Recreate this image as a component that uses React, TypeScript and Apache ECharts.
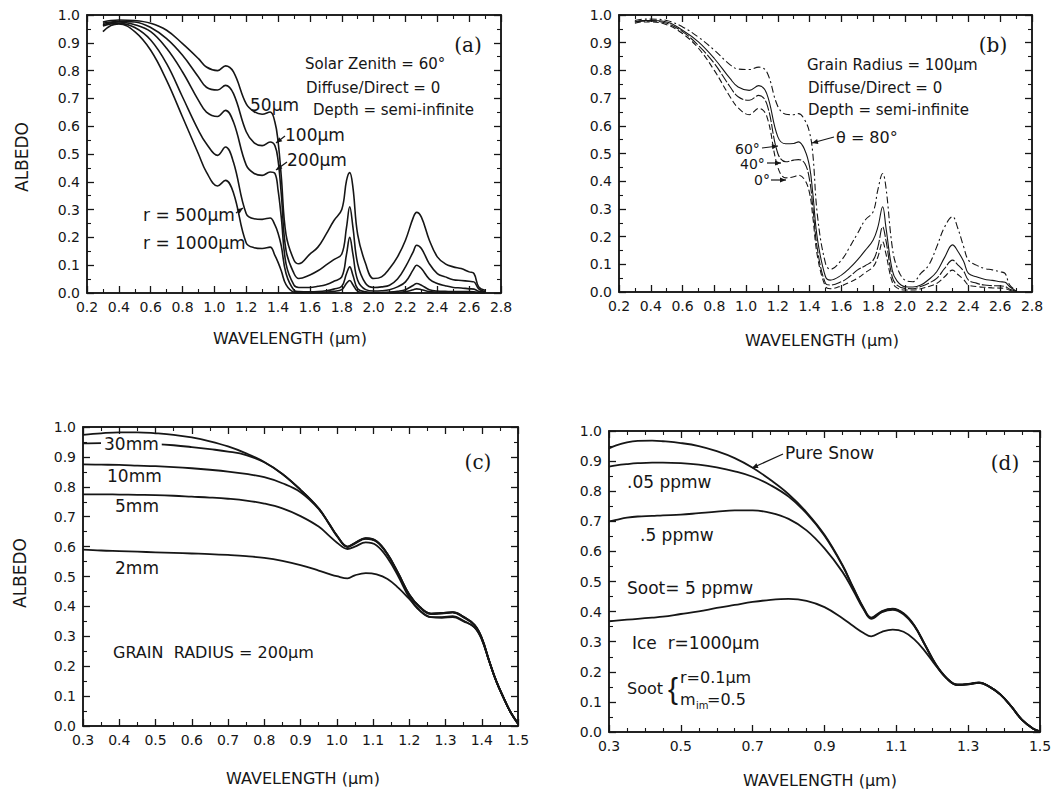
import React, { useEffect, useRef } from "react";
import * as echarts from "echarts";

// ---------- Panel (a): grain radius, solar zenith 60° ----------
const waveA = [0.30,0.35,0.40,0.50,0.60,0.70,0.80,0.90,0.95,1.02,1.07,1.12,1.20,1.25,1.30,1.35,1.38,1.40,1.42,1.45,1.50,1.53,1.60,1.65,1.70,1.75,1.80,1.83,1.85,1.87,1.90,1.95,2.00,2.05,2.10,2.15,2.20,2.25,2.27,2.30,2.35,2.40,2.45,2.50,2.55,2.60,2.63,2.66,2.70];
const r50 = [0.975,0.980,0.982,0.980,0.970,0.945,0.897,0.843,0.813,0.800,0.817,0.795,0.680,0.652,0.643,0.651,0.615,0.545,0.420,0.210,0.118,0.105,0.140,0.165,0.210,0.260,0.300,0.405,0.433,0.380,0.210,0.105,0.052,0.058,0.088,0.130,0.190,0.273,0.290,0.273,0.190,0.130,0.105,0.094,0.088,0.076,0.070,0.022,0.010];
const r100 = [0.970,0.975,0.977,0.975,0.955,0.915,0.855,0.777,0.740,0.730,0.747,0.717,0.580,0.540,0.530,0.543,0.530,0.477,0.357,0.153,0.070,0.052,0.065,0.080,0.100,0.120,0.140,0.237,0.310,0.237,0.105,0.034,0.020,0.022,0.028,0.050,0.094,0.150,0.172,0.160,0.105,0.070,0.058,0.048,0.045,0.042,0.040,0.015,0.005];
const r200 = [0.965,0.972,0.975,0.965,0.940,0.880,0.795,0.693,0.651,0.635,0.657,0.615,0.460,0.430,0.423,0.435,0.430,0.370,0.273,0.105,0.028,0.020,0.020,0.024,0.030,0.042,0.058,0.140,0.200,0.140,0.046,0.012,0.007,0.008,0.012,0.022,0.040,0.085,0.100,0.088,0.050,0.034,0.026,0.020,0.018,0.015,0.014,0.006,0.003];
const r500 = [0.960,0.968,0.970,0.955,0.910,0.825,0.705,0.585,0.537,0.495,0.525,0.470,0.285,0.267,0.265,0.270,0.245,0.215,0.170,0.070,0.010,0.005,0.004,0.005,0.008,0.014,0.024,0.070,0.094,0.064,0.015,0.004,0.002,0.002,0.003,0.006,0.012,0.028,0.034,0.028,0.012,0.007,0.006,0.005,0.005,0.005,0.004,0.002,0.000];
const r1000 = [0.940,0.962,0.968,0.940,0.873,0.765,0.633,0.500,0.435,0.385,0.405,0.360,0.180,0.163,0.160,0.165,0.135,0.110,0.080,0.030,0.003,0.001,0.001,0.002,0.003,0.006,0.012,0.035,0.045,0.030,0.006,0.001,0.000,0.000,0.001,0.002,0.005,0.012,0.015,0.012,0.005,0.003,0.002,0.002,0.002,0.002,0.002,0.001,0.000];

// ---------- Panel (b): solar zenith angle, grain radius 100 µm ----------
const waveB = [0.30,0.35,0.40,0.50,0.60,0.70,0.80,0.90,0.95,1.02,1.08,1.13,1.20,1.25,1.30,1.33,1.37,1.40,1.42,1.45,1.50,1.53,1.60,1.65,1.70,1.75,1.80,1.83,1.86,1.88,1.92,1.95,2.00,2.05,2.10,2.15,2.20,2.25,2.30,2.33,2.37,2.40,2.45,2.50,2.55,2.60,2.63,2.66,2.70];
const z80 = [0.980,0.985,0.985,0.980,0.957,0.920,0.873,0.820,0.805,0.803,0.812,0.795,0.670,0.642,0.640,0.644,0.620,0.575,0.500,0.272,0.103,0.082,0.115,0.160,0.210,0.260,0.290,0.370,0.428,0.380,0.163,0.090,0.043,0.037,0.067,0.097,0.163,0.235,0.272,0.235,0.163,0.115,0.097,0.085,0.080,0.073,0.067,0.025,0.005];
const z60 = [0.975,0.980,0.980,0.975,0.945,0.903,0.843,0.770,0.740,0.728,0.745,0.716,0.560,0.535,0.536,0.542,0.512,0.452,0.356,0.188,0.055,0.043,0.061,0.085,0.115,0.150,0.188,0.235,0.308,0.235,0.079,0.040,0.019,0.018,0.025,0.045,0.073,0.125,0.170,0.150,0.110,0.067,0.055,0.046,0.042,0.037,0.035,0.019,0.004];
const z40 = [0.975,0.978,0.978,0.970,0.940,0.890,0.825,0.740,0.705,0.692,0.710,0.680,0.500,0.470,0.476,0.478,0.464,0.404,0.308,0.151,0.031,0.025,0.037,0.055,0.079,0.095,0.115,0.163,0.235,0.188,0.055,0.025,0.013,0.012,0.020,0.032,0.049,0.085,0.115,0.100,0.075,0.043,0.032,0.025,0.023,0.022,0.020,0.010,0.003];
const z0 = [0.970,0.975,0.975,0.965,0.933,0.880,0.800,0.704,0.665,0.640,0.663,0.635,0.450,0.412,0.416,0.422,0.404,0.356,0.272,0.127,0.019,0.012,0.022,0.035,0.049,0.070,0.091,0.127,0.181,0.139,0.037,0.015,0.007,0.007,0.012,0.020,0.031,0.055,0.079,0.065,0.045,0.025,0.020,0.017,0.015,0.014,0.013,0.006,0.002];

// ---------- Panel (c): snow depth, grain radius 200 µm ----------
const waveC = [0.30,0.35,0.40,0.45,0.50,0.55,0.60,0.65,0.70,0.75,0.80,0.85,0.90,0.95,0.98,1.00,1.03,1.05,1.08,1.11,1.14,1.17,1.20,1.23,1.26,1.29,1.32,1.35,1.38,1.40,1.42,1.44,1.46,1.48,1.50];
const dInf = [0.974,0.979,0.982,0.982,0.979,0.974,0.965,0.952,0.935,0.912,0.883,0.843,0.790,0.728,0.675,0.638,0.600,0.612,0.628,0.618,0.575,0.510,0.440,0.397,0.376,0.378,0.381,0.365,0.338,0.295,0.220,0.150,0.095,0.045,0.008];
const d30 = [0.945,0.946,0.946,0.945,0.943,0.939,0.933,0.926,0.918,0.906,0.882,0.843,0.790,0.728,0.675,0.638,0.600,0.612,0.628,0.618,0.575,0.510,0.440,0.397,0.376,0.378,0.381,0.365,0.338,0.295,0.220,0.150,0.095,0.045,0.008];
const d10 = [0.875,0.874,0.873,0.871,0.869,0.866,0.862,0.857,0.851,0.843,0.832,0.812,0.782,0.726,0.673,0.636,0.598,0.610,0.626,0.616,0.573,0.508,0.438,0.395,0.374,0.376,0.379,0.363,0.337,0.294,0.219,0.150,0.095,0.045,0.008];
const d5 = [0.775,0.775,0.774,0.773,0.772,0.770,0.767,0.764,0.760,0.754,0.744,0.728,0.702,0.667,0.635,0.614,0.592,0.600,0.614,0.604,0.562,0.500,0.430,0.385,0.364,0.364,0.367,0.352,0.330,0.290,0.218,0.150,0.095,0.045,0.008];
const d2 = [0.590,0.587,0.585,0.583,0.581,0.579,0.577,0.575,0.572,0.568,0.562,0.552,0.538,0.520,0.508,0.501,0.494,0.504,0.511,0.507,0.492,0.462,0.425,0.385,0.364,0.362,0.364,0.350,0.330,0.290,0.218,0.150,0.095,0.045,0.008];

// ---------- Panel (d): soot content, ice r = 1000 µm ----------
const waveD = [0.30,0.32,0.35,0.38,0.42,0.45,0.50,0.55,0.60,0.65,0.70,0.75,0.80,0.85,0.90,0.95,0.98,1.01,1.03,1.06,1.09,1.12,1.15,1.18,1.21,1.24,1.27,1.30,1.33,1.36,1.39,1.42,1.45,1.48,1.50];
const sPure = [0.942,0.952,0.962,0.967,0.968,0.966,0.960,0.950,0.933,0.910,0.878,0.837,0.790,0.730,0.655,0.555,0.480,0.410,0.380,0.402,0.410,0.395,0.355,0.290,0.225,0.180,0.158,0.160,0.165,0.150,0.125,0.085,0.040,0.012,0.002];
const s005 = [0.882,0.886,0.890,0.893,0.895,0.895,0.893,0.888,0.879,0.866,0.848,0.820,0.782,0.726,0.652,0.553,0.478,0.408,0.378,0.400,0.408,0.393,0.353,0.289,0.224,0.179,0.157,0.159,0.164,0.150,0.124,0.085,0.040,0.012,0.002];
const s05 = [0.700,0.705,0.712,0.716,0.718,0.720,0.722,0.727,0.732,0.736,0.736,0.728,0.708,0.670,0.610,0.532,0.470,0.405,0.376,0.398,0.406,0.391,0.352,0.288,0.223,0.178,0.156,0.158,0.163,0.150,0.124,0.085,0.040,0.012,0.002];
const s5 = [0.368,0.370,0.373,0.376,0.380,0.383,0.392,0.401,0.412,0.422,0.432,0.439,0.442,0.436,0.415,0.378,0.352,0.328,0.318,0.333,0.340,0.333,0.308,0.268,0.220,0.178,0.156,0.158,0.163,0.150,0.124,0.085,0.040,0.012,0.002];

const INK = "#161616";
const SANS = '"DejaVu Sans", sans-serif';
const SERIF = '"DejaVu Serif", serif';

const grids = [
  { left: 87, top: 15, width: 414, height: 278 },
  { left: 619, top: 15, width: 413, height: 277 },
  { left: 83, top: 427, width: 435, height: 299 },
  { left: 609, top: 431, width: 431, height: 301 },
];

const xRanges = [
  { min: 0.2, max: 2.8, interval: 0.2, minor: 2 },
  { min: 0.2, max: 2.8, interval: 0.2, minor: 2 },
  { min: 0.3, max: 1.5, interval: 0.1, minor: 2 },
  { min: 0.3, max: 1.5, interval: 0.2, minor: 4 },
];

function makeX(g: number, pos: "bottom" | "top") {
  const r = xRanges[g];
  return {
    type: "value",
    gridIndex: g,
    position: pos,
    min: r.min,
    max: r.max,
    interval: r.interval,
    axisLine: { show: true, onZero: false, lineStyle: { color: INK, width: 1.5 } },
    axisTick: { show: true, inside: true, length: 7, lineStyle: { color: INK, width: 1.3 } },
    minorTick: { show: true, splitNumber: r.minor, length: 4, lineStyle: { color: INK, width: 1.1 } },
    splitLine: { show: false },
    minorSplitLine: { show: false },
    axisLabel: {
      show: pos === "bottom",
      margin: 7,
      color: INK,
      fontFamily: SANS,
      fontSize: 14,
      formatter: (v: number) => v.toFixed(1),
    },
  };
}

function makeY(g: number, pos: "left" | "right") {
  return {
    type: "value",
    gridIndex: g,
    position: pos,
    min: 0,
    max: 1,
    interval: 0.1,
    axisLine: { show: true, onZero: false, lineStyle: { color: INK, width: 1.5 } },
    axisTick: { show: true, inside: true, length: 7, lineStyle: { color: INK, width: 1.3 } },
    minorTick: { show: true, splitNumber: 2, length: 4, lineStyle: { color: INK, width: 1.1 } },
    splitLine: { show: false },
    minorSplitLine: { show: false },
    axisLabel: {
      show: pos === "left",
      margin: 7,
      color: INK,
      fontFamily: SANS,
      fontSize: 14,
      formatter: (v: number) => v.toFixed(1),
    },
  };
}

function line(name: string, g: number, xs: number[], ys: number[], width: number, dash?: number[] | string) {
  return {
    name,
    type: "line",
    xAxisIndex: g * 2,
    yAxisIndex: g * 2,
    data: xs.map((x, i) => [x, ys[i]]),
    showSymbol: false,
    smooth: 0.4,
    lineStyle: { color: INK, width, type: dash || "solid" },
    z: 3,
  };
}

function txt(text: string, x: number, y: number, size: number, align = "left", family = SANS, extra: any = {}, rotation = 0) {
  return {
    type: "text",
    x,
    y,
    rotation,
    z: 10,
    style: {
      text,
      font: `${size}px ${family}`,
      fill: INK,
      align,
      textAlign: align,
      verticalAlign: "middle",
      textVerticalAlign: "middle",
      ...extra,
    },
  };
}

function leader(x1: number, y1: number, x2: number, y2: number) {
  const ang = Math.atan2(y2 - y1, x2 - x1);
  const L = 6, W = 2.6;
  const bx = x2 - L * Math.cos(ang), by = y2 - L * Math.sin(ang);
  const px = -Math.sin(ang) * W, py = Math.cos(ang) * W;
  return [
    { type: "line", z: 10, shape: { x1, y1, x2, y2 }, style: { stroke: INK, lineWidth: 1.2 } },
    {
      type: "polygon",
      z: 10,
      shape: { points: [[x2, y2], [bx + px, by + py], [bx - px, by - py]] },
      style: { fill: INK },
    },
  ];
}

export default function App() {
  const ref = useRef<HTMLDivElement>(null);

  useEffect(() => {
    if (!ref.current) return;
    const chart = echarts.init(ref.current, null, { renderer: "svg" });

    const xAxis: any[] = [];
    const yAxis: any[] = [];
    for (let g = 0; g < 4; g++) {
      xAxis.push(makeX(g, "bottom"), makeX(g, "top"));
      yAxis.push(makeY(g, "left"), makeY(g, "right"));
    }

    const series = [
      line("50 µm", 0, waveA, r50, 1.6),
      line("100 µm", 0, waveA, r100, 1.6),
      line("200 µm", 0, waveA, r200, 1.6),
      line("500 µm", 0, waveA, r500, 1.6),
      line("1000 µm", 0, waveA, r1000, 1.6),
      line("θ = 80°", 1, waveB, z80, 1.1, [7, 3, 2, 3]),
      line("60°", 1, waveB, z60, 1.1),
      line("40°", 1, waveB, z40, 1.1, [10, 2]),
      line("0°", 1, waveB, z0, 1.1, [6, 3]),
      line("semi-infinite", 2, waveC, dInf, 1.8),
      line("30 mm", 2, waveC, d30, 1.8),
      line("10 mm", 2, waveC, d10, 1.8),
      line("5 mm", 2, waveC, d5, 1.8),
      line("2 mm", 2, waveC, d2, 1.8),
      line("Pure Snow", 3, waveD, sPure, 1.8),
      line(".05 ppmw", 3, waveD, s005, 1.8),
      line(".5 ppmw", 3, waveD, s05, 1.8),
      line("5 ppmw", 3, waveD, s5, 1.8),
    ];

    const graphic: any[] = [
      // axis titles
      txt("ALBEDO", 22, 157, 17, "center", SANS, {}, Math.PI / 2),
      txt("ALBEDO", 20, 573, 17, "center", SANS, {}, Math.PI / 2),
      txt("WAVELENGTH (µm)", 290, 338, 16, "center"),
      txt("WAVELENGTH (µm)", 822, 340, 16, "center"),
      txt("WAVELENGTH (µm)", 303, 778, 16, "center"),
      txt("WAVELENGTH (µm)", 820, 780, 16, "center"),
      // panel (a)
      txt("(a)", 468, 45, 20, "center", SERIF),
      txt("Solar Zenith = 60°", 305, 64, 15),
      txt("Diffuse/Direct = 0", 306, 88, 15),
      txt("Depth = semi-infinite", 313, 110, 15),
      txt("50µm", 250, 105, 17),
      txt("100µm", 285, 135, 17),
      txt("200µm", 287, 160, 17),
      txt("r = 500µm", 143, 215, 17),
      txt("r = 1000µm", 143, 243, 17),
      ...leader(285, 136, 276, 143),
      ...leader(287, 162, 276, 170),
      ...leader(236, 213, 243, 208),
      // panel (b)
      txt("(b)", 993, 45, 20, "center", SERIF),
      txt("Grain Radius = 100µm", 807, 65, 15),
      txt("Diffuse/Direct = 0", 808, 88, 15),
      txt("Depth = semi-infinite", 808, 110, 15),
      txt("θ = 80°", 836, 137, 16),
      txt("60°", 735, 149, 14),
      txt("40°", 740, 164, 14),
      txt("0°", 754, 180, 14),
      ...leader(762, 148, 778, 146),
      ...leader(767, 163, 781, 163),
      ...leader(771, 180, 786, 180),
      ...leader(834, 137, 812, 143),
      // panel (c)
      txt("(c)", 478, 462, 20, "center", SERIF),
      txt("30mm", 101, 444, 17, "left", SANS, { backgroundColor: "#fff", padding: [0, 3, 0, 3] }),
      txt("10mm", 107, 476, 17),
      txt("5mm", 115, 506, 17),
      txt("2mm", 115, 568, 17),
      txt("GRAIN  RADIUS = 200µm", 113, 652, 16),
      // panel (d)
      txt("(d)", 1005, 463, 20, "center", SERIF),
      txt("Pure Snow", 785, 453, 17),
      ...leader(783, 454, 752, 468),
      txt(".05 ppmw", 627, 482, 17),
      txt(".5 ppmw", 640, 535, 17),
      txt("Soot= 5 ppmw", 627, 588, 17),
      txt("Ice  r=1000µm", 632, 643, 17),
      txt("Soot", 627, 688, 16),
      txt("{", 668, 688, 30, "left", '"Liberation Sans", sans-serif'),
      txt("r=0.1µm", 680, 677, 16),
      txt("m", 680, 699, 16),
      txt("im", 696, 705, 10),
      txt("=0.5", 707, 699, 16),
    ];

    chart.setOption({
      animation: false,
      backgroundColor: "#ffffff",
      grid: grids.map((g) => ({ ...g, show: true, borderColor: INK, borderWidth: 1.5, backgroundColor: "transparent" })),
      xAxis,
      yAxis,
      series,
      graphic,
    });

    return () => chart.dispose();
  }, []);

  return (
    <div
      ref={ref}
      style={{ position: "fixed", left: 0, top: 0, width: 1064, height: 795, background: "#fff" }}
    />
  );
}
